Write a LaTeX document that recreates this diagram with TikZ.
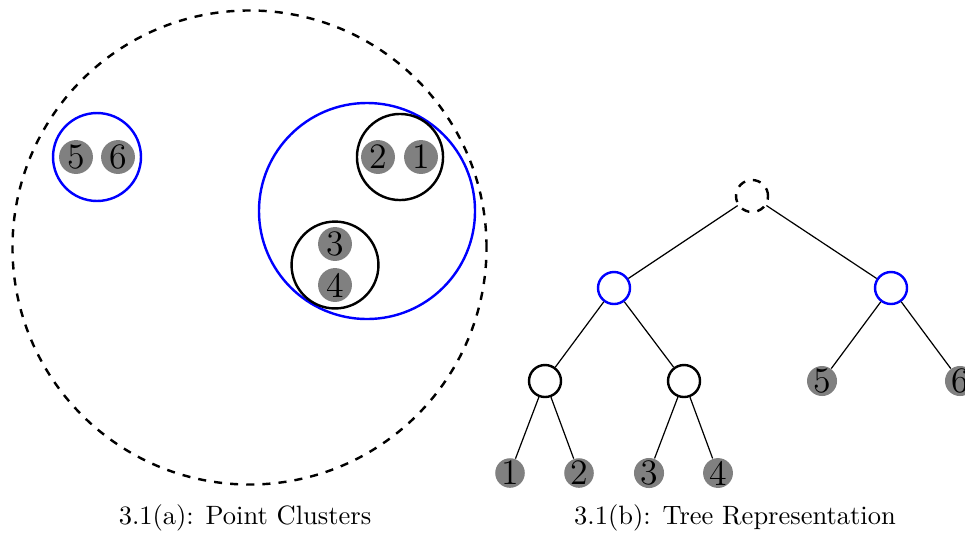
\documentclass[tikz,border=0pt]{standalone}
\usetikzlibrary{positioning}
\begin{document}
\begin{tikzpicture}[x=0.3717pt, y=-0.3717pt,
  pt/.style={circle, fill=gray, inner sep=0pt, minimum size=12.6pt,
    font=\fontsize{13.3}{16}\selectfont},
  leaf/.style={circle, fill=gray, inner sep=0pt, minimum size=9.7pt,
    font=\fontsize{13.3}{16}\selectfont},
  ring/.style={circle, draw, line width=0.9pt, inner sep=0pt},
  bluering/.style={ring, draw=blue},
  inner/.style={circle, draw, line width=0.9pt, inner sep=0pt, minimum size=11.9pt},
  edge/.style={draw, line width=0.45pt},
  caption/.style={font=\fontsize{9.85}{12}\selectfont}]
\useasboundingbox (0,0) rectangle (965,533);

% left: nested point clusters
\node[ring, dashed, minimum size=176.2pt] (all) at (249.5,247.5) {};
\node[bluering, minimum size=32.7pt] (c56) at (97,157) {};
\node[bluering, minimum size=80.3pt] (c1234) at (367,211) {};
\node[ring, minimum size=32pt] (c12) at (400,157) {};
\node[ring, minimum size=32.3pt] (c34) at (335,265) {};

\node[pt] (p5) at (76,157) {5};
\node[pt] (p6) at (118,157) {6};
\node[pt] (p2) at (378,157) {2};
\node[pt] (p1) at (421,157) {1};
\node[pt] (p3) at (335,244) {3};
\node[pt] (p4) at (335,285) {4};

\node[caption] (capa) at (245,518) {3.1(a): Point Clusters};

% right: the same clustering as a tree
\node[inner, dashed] (root) at (752,196) {};
\node[inner, draw=blue] (bl) at (614,288) {};
\node[inner, draw=blue] (br) at (891,288) {};
\node[inner] (kl) at (545,381) {};
\node[inner] (kr) at (684,381) {};
\node[leaf] (t5) at (822,381) {5};
\node[leaf] (t6) at (960,381) {6};
\node[leaf] (t1) at (510,473) {1};
\node[leaf] (t2) at (579,473) {2};
\node[leaf] (t3) at (649,473) {3};
\node[leaf] (t4) at (718,473) {4};

\path[edge] (root) -- (bl);
\path[edge] (root) -- (br);
\path[edge] (bl) -- (kl);
\path[edge] (bl) -- (kr);
\path[edge] (br) -- (t5);
\path[edge] (br) -- (t6);
\path[edge] (kl) -- (t1);
\path[edge] (kl) -- (t2);
\path[edge] (kr) -- (t3);
\path[edge] (kr) -- (t4);

\node[caption] (capb) at (735,518) {3.1(b): Tree Representation};
\end{tikzpicture}
\end{document}
